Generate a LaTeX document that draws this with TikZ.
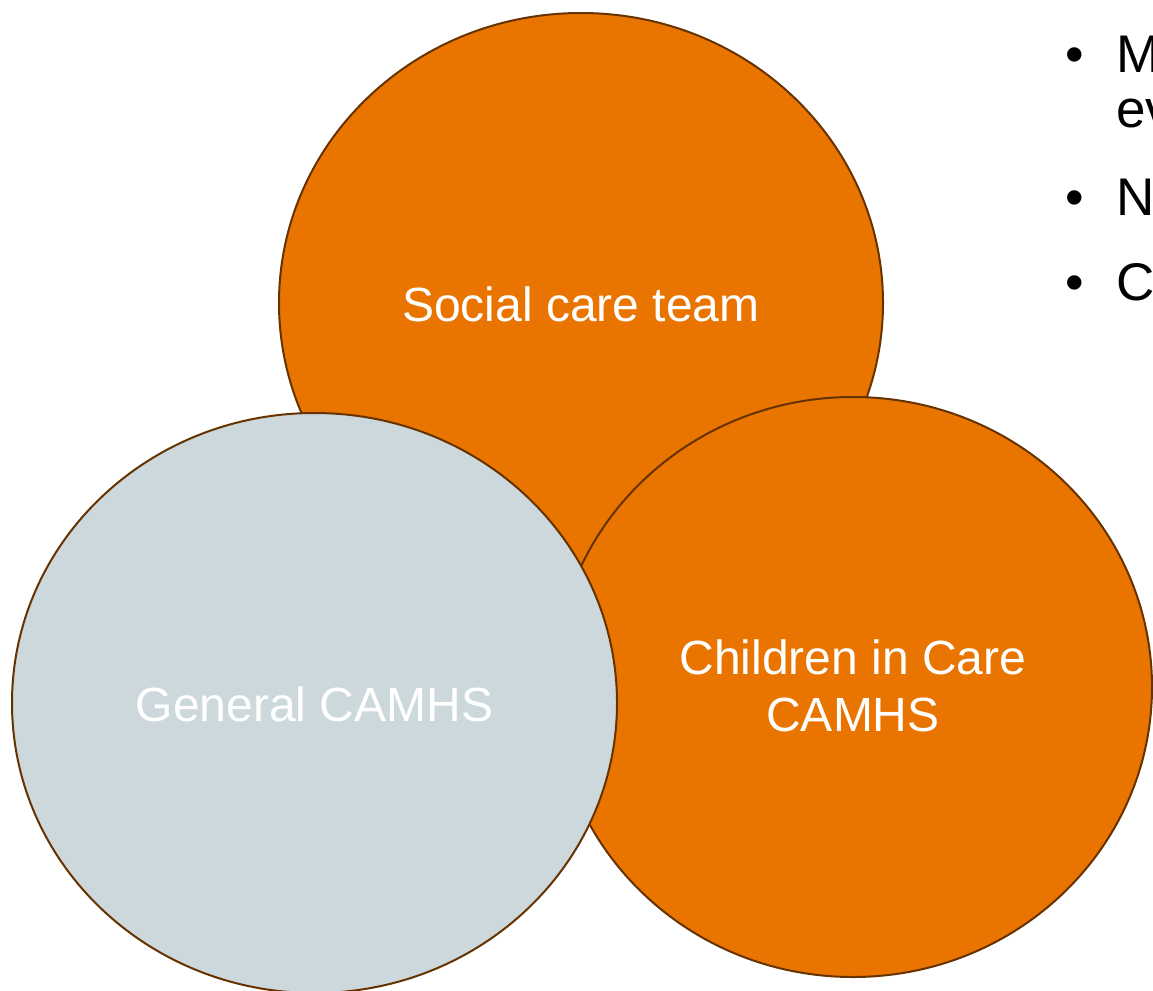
\documentclass[tikz,border=0pt]{standalone}
\usepackage{fontspec}
\setmainfont{Liberation Sans}
\definecolor{carrot}{RGB}{233,117,0}
\definecolor{mist}{RGB}{205,216,221}
\definecolor{rim}{RGB}{102,51,0}
\begin{document}
\begin{tikzpicture}[x=1pt,y=-1pt,
  blob/.style={draw=rim,line width=2pt},
  label/.style={text=white,font=\fontsize{48}{57}\selectfont,align=center},
  point/.style={anchor=base west,font=\fontsize{53}{55}\selectfont,inner sep=0pt},
  dot/.style={anchor=base,font=\fontsize{53}{55}\selectfont,inner sep=0pt}]
  \useasboundingbox (0,0) rectangle (1153,990);

  % three overlapping circles, back to front
  \path[blob,fill=carrot] (581,303) ellipse [x radius=302,y radius=290];
  \path[blob,fill=carrot] (853,687) ellipse [x radius=299,y radius=290];
  \path[blob,fill=mist]   (314.5,703) ellipse [x radius=302.5,y radius=290];

  \node[label] (social) at (581,304) {Social care team};
  \node[label] (cic) at (853,686) {Children in Care\\CAMHS};
  \node[label] (general) at (314.5,704) {General CAMHS};

  % bullet list running off the right edge
  \node[dot] (b1) at (1075,72) {\textbullet};
  \node[point] (t1) at (1116,72) {M};
  \node[point] (t1b) at (1116,127) {ev};
  \node[dot] (b2) at (1075,215) {\textbullet};
  \node[point] (t2) at (1116,215) {N};
  \node[dot] (b3) at (1075,300) {\textbullet};
  \node[point] (t3) at (1116,300) {C};
\end{tikzpicture}
\end{document}
